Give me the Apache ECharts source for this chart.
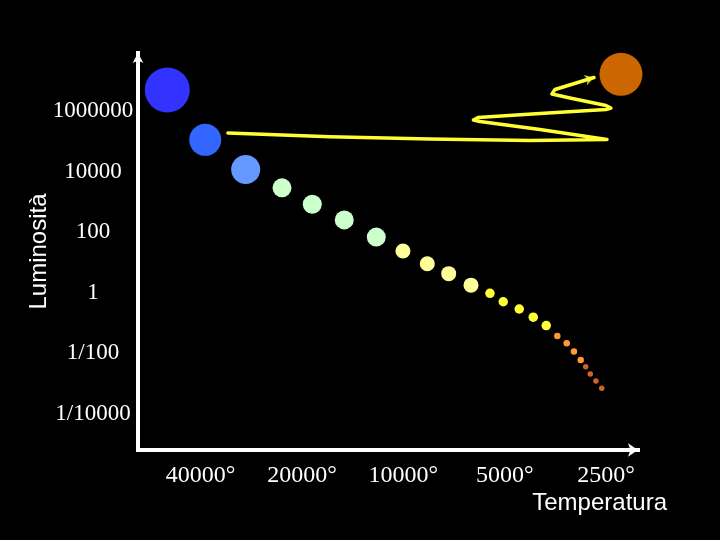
<!DOCTYPE html>
<html>
<head>
<meta charset="utf-8">
<script src="https://cdn.jsdelivr.net/npm/echarts@6/dist/echarts.min.js"></script>
<style>
html,body{margin:0;padding:0;background:#000;}
#chart{width:720px;height:540px;}
</style>
</head>
<body>
<div id="chart"></div>
<script>
// x: temperature step (0 = 40000°, each step halves the temperature); y: log10 of luminosity
const tempLabels = ['40000°', '20000°', '10000°', '5000°', '2500°'];
const tempTicks = [0, 1, 2, 3, 4];
const lumLabels = ['1000000', '10000', '100', '1', '1/100', '1/10000'];
const lumTicks = [6, 4, 2, 0, -2, -4];

const starsBlue1 = [[-0.328, 6.71]];
const starsBlue2 = [[0.046, 5.06]];
const starsBlue3 = [[0.445, 4.08]];
const starsGreen = [[0.803, 3.47], [1.102, 2.93], [1.417, 2.41], [1.733, 1.84]];
const starsPaleYellow = [[1.996, 1.38], [2.236, 0.96], [2.447, 0.63], [2.667, 0.25]];
const starsYellow = [[2.854, -0.02], [2.985, -0.30], [3.143, -0.54], [3.281, -0.81], [3.409, -1.09]];
const starsOrange = [[3.518, -1.43], [3.611, -1.67], [3.682, -1.95], [3.749, -2.23]];
const starsDarkOrange = [[3.798, -2.45], [3.843, -2.69], [3.899, -2.92], [3.956, -3.16]];
const starsRedGiant = [[4.146, 7.23]];

const evolutionPath = [
  [0.270, 5.286], [1.276, 5.164], [2.262, 5.088], [3.249, 5.038], [4.008, 5.071],
  [3.347, 5.402], [2.755, 5.667], [2.691, 5.717], [2.736, 5.799], [3.347, 5.932],
  [3.998, 6.064], [4.047, 6.114], [3.998, 6.197], [3.643, 6.445], [3.465, 6.577],
  [3.446, 6.643], [3.495, 6.726], [3.880, 7.124]
];

const chart = echarts.init(document.getElementById('chart'), null, {renderer: 'canvas'});

function starSeries(data, size, color) {
  return {
    type: 'scatter', data: data, symbol: 'circle', symbolSize: size,
    itemStyle: {color: color, opacity: 1}, clip: false, silent: true
  };
}

const option = {
  backgroundColor: '#000000',
  animation: false,
  grid: {left: 138, right: 82, top: 53, bottom: 90, containLabel: false, outerBoundsMode: 'none'},
  xAxis: {
    type: 'value', min: -0.617, max: 4.314,
    name: 'Temperatura', nameLocation: 'end', nameGap: 29, nameMoveOverlap: false,
    nameTextStyle: {color: '#fff', fontFamily: 'Liberation Sans', fontSize: 24,
      align: 'right', verticalAlign: 'top', padding: [41, 0, 0, 0]},
    axisLine: {show: true, onZero: false, symbol: ['none', 'arrow'], symbolSize: [10, 10],
      lineStyle: {color: '#fff', width: 4, cap: 'square'}},
    axisTick: {show: false},
    splitLine: {show: false},
    axisLabel: {customValues: tempTicks, color: '#fff', fontFamily: 'Liberation Serif', fontSize: 24, margin: 14,
      formatter: function (v) { return tempLabels[tempTicks.indexOf(Math.round(v))]; }}
  },
  yAxis: {
    type: 'value', min: -5.207, max: 7.934,
    name: 'Luminosità', nameLocation: 'middle', nameRotate: 90, nameGap: 99, nameMoveOverlap: false,
    nameTextStyle: {color: '#fff', fontFamily: 'Liberation Sans', fontSize: 24, verticalAlign: 'middle', align: 'center'},
    axisLine: {show: true, onZero: false, symbol: ['none', 'arrow'], symbolSize: [8, 10],
      lineStyle: {color: '#fff', width: 4, cap: 'square'}},
    axisTick: {show: false},
    splitLine: {show: false},
    axisLabel: {customValues: lumTicks, color: '#fff', fontFamily: 'Liberation Serif', fontSize: 23, margin: 45, align: 'center',
      formatter: function (v) { return lumLabels[lumTicks.indexOf(Math.round(v))]; }}
  },
  series: [
    {
      type: 'line', data: evolutionPath, symbol: 'none', smooth: false, clip: false, silent: true,
      lineStyle: {color: '#ffff33', width: 3.5, join: 'round', cap: 'round'}
    },
    {
      type: 'scatter', data: [evolutionPath[evolutionPath.length - 1]], symbol: 'arrow',
      symbolSize: [8, 9], symbolRotate: -73, itemStyle: {color: '#ffff33'}, clip: false, silent: true
    },
    starSeries(starsBlue1, 45, '#3333ff'),
    starSeries(starsBlue2, 32, '#3366ff'),
    starSeries(starsBlue3, 29, '#6699ff'),
    starSeries(starsGreen, 19, '#ccffcc'),
    starSeries(starsPaleYellow, 15, '#ffff99'),
    starSeries(starsYellow, 9.5, '#ffff33'),
    starSeries(starsOrange, 6.5, '#ff9933'),
    starSeries(starsDarkOrange, 5.5, '#cc6622'),
    starSeries(starsRedGiant, 43, '#cc6600')
  ]
};
chart.setOption(option);
</script>
</body>
</html>
